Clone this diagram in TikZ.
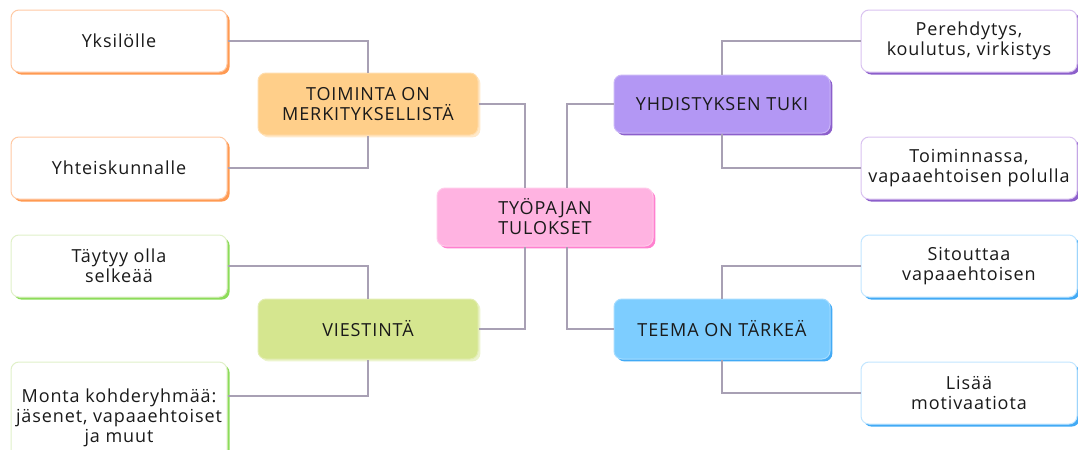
\documentclass[tikz,border=0pt]{standalone}
\usepackage{fontspec}
\setmainfont[LetterSpace=5]{Open Sans}
\usetikzlibrary{shadows}

\definecolor{linkgray}{HTML}{A8A0B4}
\definecolor{txt}{HTML}{1A1A1A}
\definecolor{orfill}{HTML}{FFCF8A}
\definecolor{oredge}{HTML}{FF9A52}
\definecolor{orline}{HTML}{FFC9A3}
\definecolor{pkfill}{HTML}{FFB3E1}
\definecolor{pkedge}{HTML}{FF80CF}
\definecolor{pufill}{HTML}{B397F4}
\definecolor{puedge}{HTML}{8C5FCB}
\definecolor{puline}{HTML}{D9C2F0}
\definecolor{grfill}{HTML}{D5E68F}
\definecolor{gredge}{HTML}{8CDC5A}
\definecolor{grline}{HTML}{E0F0C8}
\definecolor{blfill}{HTML}{7DCDFF}
\definecolor{bledge}{HTML}{42AAF5}
\definecolor{blline}{HTML}{C2E6FF}

\begin{document}
\begin{tikzpicture}[x=0.5pt,y=-0.5pt,
  box/.style={rounded corners=4pt, align=center, text=txt,
    font=\fontsize{9}{10}\selectfont, inner sep=0pt, line width=0.5pt},
  leaf/.style={box, fill=white, draw=#1line, minimum width=108pt, minimum height=31pt,
    drop shadow={shadow xshift=1.3pt, shadow yshift=-1.3pt, fill=#1edge, opacity=1}},
  topic/.style={box, fill=#1fill, draw=#1fill!70!white, minimum width=110pt, minimum height=30pt},
  link/.style={draw=linkgray, line width=0.7pt}]

\clip (0,0) rectangle (1078,450);

% centre
\node[topic=pk, minimum width=108pt, minimum height=29pt,
  drop shadow={shadow xshift=1.2pt, shadow yshift=-1.2pt, fill=pkedge, opacity=1}]
  (tyopaja) at (545,217) {TYÖPAJAN\\TULOKSET};

% topics
\node[topic=or, minimum height=31pt,
  drop shadow={shadow xshift=1.2pt, shadow yshift=-1.2pt, fill=orfill!45!white, opacity=1}]
  (toiminta) at (368,104) {TOIMINTA ON\\MERKITYKSELLISTÄ};
\node[topic=pu, minimum width=108pt, minimum height=29pt,
  drop shadow={shadow xshift=1.2pt, shadow yshift=-1.2pt, fill=puedge, opacity=1}]
  (yhdistys) at (722,104) {YHDISTYKSEN TUKI};
\node[topic=gr,
  drop shadow={shadow xshift=1.2pt, shadow yshift=-1.2pt, fill=grfill!45!white, opacity=1}]
  (viestinta) at (368,329) {VIESTINTÄ};
\node[topic=bl, minimum width=108pt,
  drop shadow={shadow xshift=1.2pt, shadow yshift=-1.2pt, fill=bledge, opacity=1}]
  (teema) at (722,329) {TEEMA ON TÄRKEÄ};

% leaves
\node[leaf=or] (yksilo) at (119,41) {Yksilölle};
\node[leaf=or] (yhteis) at (119,168) {Yhteiskunnalle};
\node[leaf=gr] (taytyy) at (119,266) {Täytyy olla\\selkeää};
\node[leaf=gr, minimum height=56pt] (monta) at (119,418)
  {Monta kohderyhmää:\\jäsenet, vapaaehtoiset\\ja muut};
\node[leaf=pu] (pereh) at (969,41) {Perehdytys,\\koulutus, virkistys};
\node[leaf=pu] (toimin) at (969,168) {Toiminnassa,\\vapaaehtoisen polulla};
\node[leaf=bl] (sitout) at (969,266) {Sitouttaa\\vapaaehtoisen};
\node[leaf=bl] (lisaa) at (969,393) {Lisää\\motivaatiota};

% links
\draw[link] (toiminta.east) -| ([xshift=-10pt]tyopaja.north);
\draw[link] (yhdistys.west) -| ([xshift=11pt]tyopaja.north);
\draw[link] (viestinta.east) -| ([xshift=-10pt]tyopaja.south);
\draw[link] (teema.west) -| ([xshift=11pt]tyopaja.south);

\draw[link] (yksilo.east) -| (toiminta.north);
\draw[link] (yhteis.east) -| (toiminta.south);
\draw[link] (taytyy.east) -| (viestinta.north);
\draw[link] ([yshift=11pt]monta.east) -| (viestinta.south);
\draw[link] (pereh.west) -| (yhdistys.north);
\draw[link] (toimin.west) -| (yhdistys.south);
\draw[link] (sitout.west) -| (teema.north);
\draw[link] (lisaa.west) -| (teema.south);

\end{tikzpicture}
\end{document}
